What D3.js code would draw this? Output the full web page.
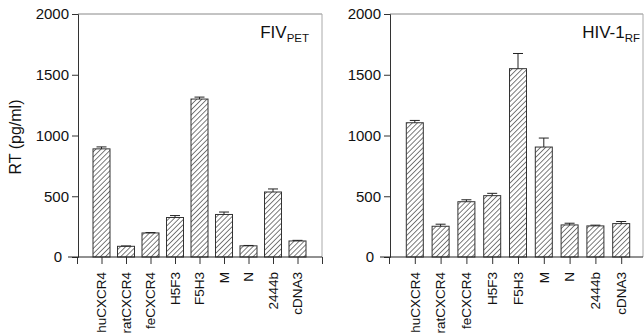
<!DOCTYPE html>
<html>
<head>
<meta charset="utf-8">
<script src="https://cdn.jsdelivr.net/npm/d3@7"></script>
<style>
  body { margin: 0; background: #fff; }
  svg { display: block; font-family: "Liberation Sans", Arial, sans-serif; }
</style>
</head>
<body>
<div id="chart"></div>
<script>
// values (RT in pg/ml)
const categories = ["huCXCR4", "ratCXCR4", "feCXCR4", "H5F3", "F5H3", "M", "N", "2444b", "cDNA3"];
const fivValues = [890, 88, 198, 325, 1300, 350, 92, 535, 132];
const fivErrors = [16, 3, 3, 16, 16, 20, 3, 25, 5];
const hivValues = [1105, 253, 455, 505, 1550, 905, 264, 256, 275];
const hivErrors = [19, 17, 16, 19, 125, 74, 14, 6, 17];
const yTicks = [0, 500, 1000, 1500, 2000];

const width = 644, height = 336;

const svg = d3.select("#chart").append("svg")
  .attr("width", width)
  .attr("height", height);

svg.append("rect").attr("width", width).attr("height", height).attr("fill", "#fff");

// diagonal hatch used for every bar
svg.append("defs").append("pattern")
  .attr("id", "hatch")
  .attr("patternUnits", "userSpaceOnUse")
  .attr("width", 3.6)
  .attr("height", 3.6)
  .attr("patternTransform", "rotate(45)")
  .append("line")
  .attr("x1", 0).attr("y1", 0)
  .attr("x2", 0).attr("y2", 3.6)
  .attr("stroke", "#111")
  .attr("stroke-width", 1.1);

const y = d3.scaleLinear().domain([0, 2000]).range([257, 14]);

function drawPanel(opts) {
  const g = svg.append("g");
  const x = d3.scaleLinear().domain([0, 10]).range([opts.x0, opts.x1]);
  const barW = 17;

  // frame (faint top and right edges)
  g.append("line")
    .attr("x1", opts.axisX).attr("x2", opts.right)
    .attr("y1", y(2000)).attr("y2", y(2000))
    .attr("stroke", "#888").attr("stroke-width", 1);
  g.append("line")
    .attr("x1", opts.right).attr("x2", opts.right)
    .attr("y1", y(2000)).attr("y2", y(0))
    .attr("stroke", "#aaa").attr("stroke-width", 1);

  // bars
  g.selectAll("rect.bar")
    .data(opts.values)
    .join("rect")
    .attr("class", "bar")
    .attr("x", (d, i) => x(i + 1) - barW / 2)
    .attr("y", d => y(d))
    .attr("width", barW)
    .attr("height", d => y(0) - y(d))
    .attr("fill", "url(#hatch)")
    .attr("stroke", "#333")
    .attr("stroke-width", 1);

  // upper error bars
  const err = g.selectAll("g.err")
    .data(opts.values.map((v, i) => ({ v, e: opts.errors[i], i })))
    .join("g")
    .attr("class", "err");
  err.append("line")
    .attr("x1", d => x(d.i + 1)).attr("x2", d => x(d.i + 1))
    .attr("y1", d => y(d.v)).attr("y2", d => y(d.v + d.e))
    .attr("stroke", "#222");
  err.append("line")
    .attr("x1", d => x(d.i + 1) - 5).attr("x2", d => x(d.i + 1) + 5)
    .attr("y1", d => y(d.v + d.e)).attr("y2", d => y(d.v + d.e))
    .attr("stroke", "#222");

  // y axis
  const yAxis = g.append("g")
    .attr("transform", `translate(${opts.axisX},0)`)
    .call(d3.axisLeft(y).tickValues(yTicks).tickSize(6).tickPadding(3).tickFormat(d3.format("d")));
  yAxis.select(".domain").attr("stroke", "#333");
  yAxis.selectAll(".tick line").attr("stroke", "#333");
  yAxis.selectAll(".tick text")
    .attr("font-size", 15)
    .attr("font-family", "Liberation Sans, Arial, sans-serif")
    .attr("fill", "#111");
  yAxis.selectAll(".tick").filter(d => d === 0).select("text").attr("x", -16);

  // x axis: ticks at each bar plus both ends
  const xAxis = g.append("g")
    .attr("transform", `translate(0,${y(0)})`)
    .call(d3.axisBottom(x).tickValues(d3.range(0, 11)).tickSize(7).tickFormat(""));
  xAxis.select(".domain").remove();
  xAxis.selectAll(".tick line").attr("stroke", "#333");
  g.append("line")
    .attr("x1", opts.axisX - 10).attr("x2", opts.right)
    .attr("y1", y(0)).attr("y2", y(0))
    .attr("stroke", "#222").attr("stroke-width", 1);

  // category labels, rotated
  g.selectAll("text.cat")
    .data(categories)
    .join("text")
    .attr("class", "cat")
    .attr("transform", (d, i) => `translate(${x(i + 1)},272) rotate(-90)`)
    .attr("dy", "0.35em")
    .attr("text-anchor", "end")
    .attr("font-size", 13.5)
    .attr("fill", "#111")
    .text(d => d);

  // panel title with subscript
  const t = g.append("text")
    .attr("x", opts.titleX)
    .attr("y", 38)
    .attr("text-anchor", "end")
    .attr("font-size", 17)
    .attr("fill", "#111");
  t.append("tspan").text(opts.title);
  t.append("tspan").attr("dy", 4).attr("font-size", 11.5).text(opts.sub);
}

drawPanel({
  values: fivValues, errors: fivErrors,
  x0: 77, x1: 322, axisX: 78, right: 322,
  title: "FIV", sub: "PET", titleX: 309
});

drawPanel({
  values: hivValues, errors: hivErrors,
  x0: 389, x1: 647, axisX: 390, right: 643,
  title: "HIV-1", sub: "RF", titleX: 640
});

// y axis title (left panel only)
svg.append("text")
  .attr("transform", "translate(21,137) rotate(-90)")
  .attr("text-anchor", "middle")
  .attr("font-size", 16)
  .attr("fill", "#111")
  .text("RT (pg/ml)");
</script>
</body>
</html>
